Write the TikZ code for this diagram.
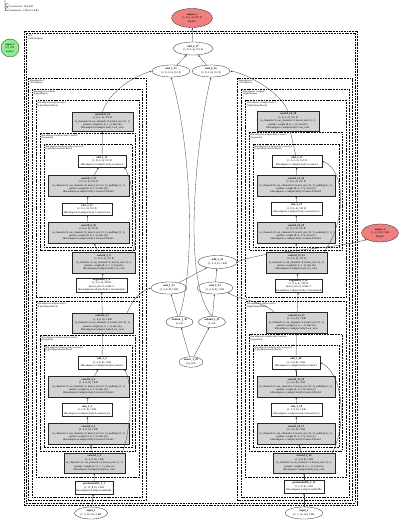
\documentclass[tikz,border=0pt]{standalone}
\usepackage{fontspec}
\setmainfont{Liberation Serif}
\usetikzlibrary{shapes.geometric,arrows.meta}
\definecolor{lcoral}{RGB}{240,128,128}
\definecolor{lgreen}{RGB}{144,238,144}
\definecolor{lgray}{RGB}{211,211,211}
\pgfdeclarelayer{bg}
\pgfsetlayers{bg,main}
\begin{document}
\begin{tikzpicture}[x=1pt,y=-1pt,
  tx/.style={font=\fontsize{2.7}{3.4}\selectfont, align=center, inner sep=0.4pt},
  wbox/.style={tx, rectangle, draw=black!85, line width=0.3pt, fill=white},
  gbox/.style={tx, rectangle, draw=black!85, line width=0.3pt, fill=lgray},
  wel/.style={tx, ellipse, draw=black!85, line width=0.3pt, fill=white, inner sep=0pt},
  rel/.style={wel, fill=lcoral},
  sz/.style 2 args={minimum width=#1pt, minimum height=#2pt},
  clus/.style={draw=black, line width=0.6pt, dash pattern=on 1.8pt off 0.9pt},
  clab/.style={anchor=north west, font=\fontsize{2.4}{2.8}\selectfont, align=left, inner sep=0.3pt},
  conn/.style={draw=black!75, line width=0.3pt, -{Latex[length=2pt,width=1.6pt]}},
]
\useasboundingbox (0,0) rectangle (400,521);
\begin{pgfonlayer}{bg}
\fill[white] (0,0) rectangle (400,521);
% model
\draw[clus] (24,31) rectangle (357.5,505);
\draw[clus] (26.2,33.2) rectangle (355.3,502.8);
% left clusters
\draw[clus] (28.5,78) rectangle (146,500.5);
\draw[clus] (32,89) rectangle (142.5,497.5);
\draw[clus] (36,100.5) rectangle (139,297.5);
\draw[clus] (40,133) rectangle (135.5,250.5);
\draw[clus] (44,144) rectangle (132,247);
\draw[clus] (36,301.5) rectangle (139,477.5);
\draw[clus] (40,335) rectangle (135.5,451);
\draw[clus] (44,345) rectangle (132,447.5);
% right clusters
\draw[clus] (237.5,78) rectangle (352.5,500.5);
\draw[clus] (241.5,89) rectangle (349.5,497.5);
\draw[clus] (245.5,100.5) rectangle (346,297.5);
\draw[clus] (249,132.5) rectangle (342.5,250.5);
\draw[clus] (253,144) rectangle (339,247);
\draw[clus] (245.5,301.5) rectangle (346,477.5);
\draw[clus] (249,334.5) rectangle (342.5,451);
\draw[clus] (253,345) rectangle (339,447.5);
\end{pgfonlayer}

% title text
\node[anchor=north west, font=\fontsize{2.6}{3.3}\selectfont, align=left, inner sep=0pt] (title) at (4,1) {G\\$\Sigma$ tensors/total: 26.8 KB\\$\Sigma$ parameters: 1,296 (5.1 KB)};

% cluster labels
\node[clab] (cmodel) at (28,34.5) {ldm\\(MultiAdapter)};
\node[clab] (cl1) at (29.5,79) {ldm.adapters.0\\(T2IAdapter)};
\node[clab] (cl2) at (33,90) {ldm.adapters.0.adapter\\(LightAdapter)};
\node[clab] (cl3) at (37,101.5) {ldm.adapters.0.adapter.body.1\\(LightAdapterBlock)};
\node[clab] (cl4) at (41,134) {ldm.adapters.0.adapter.body.1.resnets\\(Sequential)};
\node[clab] (cl5) at (45,145) {ldm.adapters.0.adapter.body.1.resnets.0\\(LightAdapterResnetBlock)};
\node[clab] (cl3b) at (37,302.5) {ldm.adapters.0.adapter.body.0\\(LightAdapterBlock)};
\node[clab] (cl4b) at (41,336) {ldm.adapters.0.adapter.body.0.resnets\\(Sequential)};
\node[clab] (cl5b) at (45,346) {ldm.adapters.0.adapter.body.0.resnets.0\\(LightAdapterResnetBlock)};
\node[clab] (cr1) at (238.5,79) {ldm.adapters.1\\(T2IAdapter)};
\node[clab] (cr2) at (242.5,90) {ldm.adapters.1.adapter\\(LightAdapter)};
\node[clab] (cr3) at (246.5,101.5) {ldm.adapters.1.adapter.body.1\\(LightAdapterBlock)};
\node[clab] (cr4) at (250,133.5) {ldm.adapters.1.adapter.body.1.resnets\\(Sequential)};
\node[clab] (cr5) at (254,145) {ldm.adapters.1.adapter.body.1.resnets.0\\(LightAdapterResnetBlock)};
\node[clab] (cr3b) at (246.5,302.5) {ldm.adapters.1.adapter.body.0\\(LightAdapterBlock)};
\node[clab] (cr4b) at (250,335.5) {ldm.adapters.1.adapter.body.0.resnets\\(Sequential)};
\node[clab] (cr5b) at (254,346) {ldm.adapters.1.adapter.body.0.resnets.0\\(LightAdapterResnetBlock)};

% free-standing nodes
\node[rel, sz={41}{19}] (out1) at (192,18) {\textbf{output\_1}\\(1, 8, 4, 4), 512 B\\depth:0};
\node[circle, tx, draw=black!85, line width=0.3pt, fill=lgreen, minimum size=18pt, inner sep=0pt] (in3) at (10,48) {\textbf{input\_3}\\(2,), 8 B\\depth:0};
\node[rel, sz={37}{18}] (out2) at (380,233) {\textbf{output\_2}\\(1, 4, 8, 8), 1 KB\\depth:0};

% centre nodes
\node[wel, sz={40}{13}] (add6) at (193,48.5) {\textbf{add\_6\_37}\\(1, 8, 4, 4), 512 B};
\node[wel, sz={38}{12}] (mul3) at (171,71) {\textbf{mul\_3\_35}\\(1, 8, 4, 4), 512 B};
\node[wel, sz={38}{12}] (mul4) at (211,71) {\textbf{mul\_4\_36}\\(1, 8, 4, 4), 512 B};
\node[wel, sz={39}{13}] (add5) at (217.5,262) {\textbf{add\_5\_34}\\(1, 4, 8, 8), 1 KB};
\node[wel, sz={36}{12}] (mul1) at (169,288) {\textbf{mul\_1\_32}\\(1, 4, 8, 8), 1 KB};
\node[wel, sz={36}{12}] (mul2) at (215,288) {\textbf{mul\_2\_33}\\(1, 4, 8, 8), 1 KB};
\node[wel, sz={27}{11}] (ub1) at (179.5,322) {\textbf{unbind\_1\_30}\\(), 4 B};
\node[wel, sz={27}{11}] (ub2) at (212,322) {\textbf{unbind\_1\_31}\\(), 4 B};
\node[wel, sz={24}{10.5}] (src) at (191,362) {\textbf{tensor\_1\_29}\\(2,), 8 B};

% left column
\node[wel, sz={33}{12}] (lin) at (91,513) {\textbf{input\_1}\\(1, 3, 16, 16), 3 KB};
\node[wbox, sz={38}{13}] (lunsh) at (94,487.5) {\textbf{pixelunshuffle\_1\_1}\\(1, 12, 8, 8), 3 KB\\ldm.adapters.0.adapter.unshuffle};
\node[gbox, sz={61}{20}] (lic0) at (94.5,463) {\textbf{conv2d\_1\_2}\\(1, 4, 8, 8), 1 KB\\in\_channels=12, out\_channels=4, kernel\_size=(1, 1)\\params: weight (4, 12, 1, 1), bias (4,)\\ldm.adapters.0.adapter.body.0.in\_conv};
\node[gbox, sz={81}{21}] (lba0) at (88.5,433.5) {\textbf{conv2d\_2\_3}\\(1, 4, 8, 8), 1 KB\\in\_channels=4, out\_channels=4, kernel\_size=(3, 3), padding=(1, 1)\\params: weight (4, 4, 3, 3), bias (4,)\\ldm.adapters.0.adapter.body.0.resnets.0.block1};
\node[wbox, sz={50}{13}] (lrelu0) at (87,410) {\textbf{relu\_1\_4}\\(1, 4, 8, 8), 1 KB\\ldm.adapters.0.adapter.body.0.resnets.0.act};
\node[gbox, sz={81}{21}] (lbb0) at (88.5,386.5) {\textbf{conv2d\_3\_5}\\(1, 4, 8, 8), 1 KB\\in\_channels=4, out\_channels=4, kernel\_size=(3, 3), padding=(1, 1)\\params: weight (4, 4, 3, 3), bias (4,)\\ldm.adapters.0.adapter.body.0.resnets.0.block2};
\node[wbox, sz={48}{13}] (ladd0) at (102,362.5) {\textbf{add\_1\_6}\\(1, 4, 8, 8), 1 KB\\ldm.adapters.0.adapter.body.0.resnets.0};
\node[gbox, sz={61}{20}] (loc0) at (102.5,323) {\textbf{conv2d\_4\_7}\\(1, 4, 8, 8), 1 KB\\in\_channels=4, out\_channels=4, kernel\_size=(1, 1)\\params: weight (4, 4, 1, 1), bias (4,)\\ldm.adapters.0.adapter.body.0.out\_conv};
\node[wbox, sz={51}{14}] (lpool) at (101.5,285) {\textbf{avgpool2d\_1\_8}\\(1, 4, 4, 4), 256 B\\kernel\_size=2, stride=2\\ldm.adapters.0.adapter.body.1.downsample};
\node[gbox, sz={63}{21}] (lic1) at (104,262.5) {\textbf{conv2d\_5\_9}\\(1, 8, 4, 4), 512 B\\in\_channels=4, out\_channels=8, kernel\_size=(1, 1)\\params: weight (8, 4, 1, 1), bias (8,)\\ldm.adapters.0.adapter.body.1.in\_conv};
\node[gbox, sz={81}{21}] (lba1) at (88.5,232.5) {\textbf{conv2d\_6\_10}\\(1, 8, 4, 4), 512 B\\in\_channels=8, out\_channels=8, kernel\_size=(3, 3), padding=(1, 1)\\params: weight (8, 8, 3, 3), bias (8,)\\ldm.adapters.0.adapter.body.1.resnets.0.block1};
\node[wbox, sz={50}{12}] (lrelu1) at (87,209) {\textbf{relu\_2\_11}\\(1, 8, 4, 4), 512 B\\ldm.adapters.0.adapter.body.1.resnets.0.act};
\node[gbox, sz={81}{21}] (lbb1) at (88.5,185.5) {\textbf{conv2d\_7\_12}\\(1, 8, 4, 4), 512 B\\in\_channels=8, out\_channels=8, kernel\_size=(3, 3), padding=(1, 1)\\params: weight (8, 8, 3, 3), bias (8,)\\ldm.adapters.0.adapter.body.1.resnets.0.block2};
\node[wbox, sz={48}{12}] (ladd1) at (102,161) {\textbf{add\_2\_13}\\(1, 8, 4, 4), 512 B\\ldm.adapters.0.adapter.body.1.resnets.0};
\node[gbox, sz={61}{19}] (loc1) at (102.5,121.5) {\textbf{conv2d\_8\_14}\\(1, 8, 4, 4), 512 B\\in\_channels=8, out\_channels=8, kernel\_size=(1, 1)\\params: weight (8, 8, 1, 1), bias (8,)\\ldm.adapters.0.adapter.body.1.out\_conv};

% right column
\node[wel, sz={38}{12}] (rin) at (304,513) {\textbf{input\_2}\\(1, 1, 16, 16), 1 KB};
\node[wbox, sz={40}{13}] (runsh) at (304,486.5) {\textbf{pixelunshuffle\_2\_15}\\(1, 4, 8, 8), 1 KB\\ldm.adapters.1.adapter.unshuffle};
\node[gbox, sz={62}{20}] (ric0) at (304,463) {\textbf{conv2d\_9\_16}\\(1, 4, 8, 8), 1 KB\\in\_channels=4, out\_channels=4, kernel\_size=(1, 1)\\params: weight (4, 4, 1, 1), bias (4,)\\ldm.adapters.1.adapter.body.0.in\_conv};
\node[gbox, sz={78}{21}] (rba0) at (296,433.5) {\textbf{conv2d\_10\_17}\\(1, 4, 8, 8), 1 KB\\in\_channels=4, out\_channels=4, kernel\_size=(3, 3), padding=(1, 1)\\params: weight (4, 4, 3, 3), bias (4,)\\ldm.adapters.1.adapter.body.0.resnets.0.block1};
\node[wbox, sz={51}{13}] (rrelu0) at (296.5,410) {\textbf{relu\_3\_18}\\(1, 4, 8, 8), 1 KB\\ldm.adapters.1.adapter.body.0.resnets.0.act};
\node[gbox, sz={78}{21}] (rbb0) at (296,386.5) {\textbf{conv2d\_11\_19}\\(1, 4, 8, 8), 1 KB\\in\_channels=4, out\_channels=4, kernel\_size=(3, 3), padding=(1, 1)\\params: weight (4, 4, 3, 3), bias (4,)\\ldm.adapters.1.adapter.body.0.resnets.0.block2};
\node[wbox, sz={48}{13}] (radd0) at (296,362.5) {\textbf{add\_3\_20}\\(1, 4, 8, 8), 1 KB\\ldm.adapters.1.adapter.body.0.resnets.0};
\node[gbox, sz={61}{21}] (roc0) at (296.5,322.5) {\textbf{conv2d\_12\_21}\\(1, 4, 8, 8), 1 KB\\in\_channels=4, out\_channels=4, kernel\_size=(1, 1)\\params: weight (4, 4, 1, 1), bias (4,)\\ldm.adapters.1.adapter.body.0.out\_conv};
\node[wbox, sz={47}{13}] (rpool) at (298.5,285.5) {\textbf{avgpool2d\_2\_22}\\(1, 4, 4, 4), 256 B\\kernel\_size=2, stride=2\\ldm.adapters.1.adapter.body.1.downsample};
\node[gbox, sz={61}{21}] (ric1) at (296.5,262.5) {\textbf{conv2d\_13\_23}\\(1, 8, 4, 4), 512 B\\in\_channels=4, out\_channels=8, kernel\_size=(1, 1)\\params: weight (8, 4, 1, 1), bias (8,)\\ldm.adapters.1.adapter.body.1.in\_conv};
\node[gbox, sz={78}{21}] (rba1) at (296,232.5) {\textbf{conv2d\_14\_24}\\(1, 8, 4, 4), 512 B\\in\_channels=8, out\_channels=8, kernel\_size=(3, 3), padding=(1, 1)\\params: weight (8, 8, 3, 3), bias (8,)\\ldm.adapters.1.adapter.body.1.resnets.0.block1};
\node[wbox, sz={51}{13}] (rrelu1) at (296.5,208.5) {\textbf{relu\_4\_25}\\(1, 8, 4, 4), 512 B\\ldm.adapters.1.adapter.body.1.resnets.0.act};
\node[gbox, sz={78}{21}] (rbb1) at (296,185.5) {\textbf{conv2d\_15\_26}\\(1, 8, 4, 4), 512 B\\in\_channels=8, out\_channels=8, kernel\_size=(3, 3), padding=(1, 1)\\params: weight (8, 8, 3, 3), bias (8,)\\ldm.adapters.1.adapter.body.1.resnets.0.block2};
\node[wbox, sz={50}{12}] (radd1) at (297,161) {\textbf{add\_4\_27}\\(1, 8, 4, 4), 512 B\\ldm.adapters.1.adapter.body.1.resnets.0};
\node[gbox, sz={62}{20}] (roc1) at (288,121) {\textbf{conv2d\_16\_28}\\(1, 8, 4, 4), 512 B\\in\_channels=8, out\_channels=8, kernel\_size=(1, 1)\\params: weight (8, 8, 1, 1), bias (8,)\\ldm.adapters.1.adapter.body.1.out\_conv};

% edge passing behind the right column
\begin{pgfonlayer}{bg}
\draw[conn] (add5.east) .. controls (265,250) and (330,250) .. (out2.south west);
\end{pgfonlayer}

% left column edges
\draw[conn] (lin) -- (lunsh);
\draw[conn] (lunsh) -- (lic0);
\draw[conn] (lic0) -- (lba0);
\draw[conn] (lba0) -- (lrelu0);
\draw[conn] (lrelu0) -- (lbb0);
\draw[conn] (lbb0) -- (ladd0);
\draw[conn] (ladd0) -- (loc0);
\draw[conn] ([xshift=-3pt]lic0.north east) .. controls +(10,-25) and +(8,12) .. ([xshift=-2pt]ladd0.south east);
\draw[conn] (loc0) -- (lpool);
\draw[conn] (lpool) -- (lic1);
\draw[conn] (lic1) -- (lba1);
\draw[conn] (lba1) -- (lrelu1);
\draw[conn] (lrelu1) -- (lbb1);
\draw[conn] (lbb1) -- (ladd1);
\draw[conn] (ladd1) -- (loc1);
\draw[conn] ([xshift=-3pt]lic1.north east) .. controls +(8,-25) and +(8,12) .. ([xshift=-2pt]ladd1.south east);

% right column edges
\draw[conn] (rin) -- (runsh);
\draw[conn] (runsh) -- (ric0);
\draw[conn] (ric0) -- (rba0);
\draw[conn] (rba0) -- (rrelu0);
\draw[conn] (rrelu0) -- (rbb0);
\draw[conn] (rbb0) -- (radd0);
\draw[conn] (radd0) -- (roc0);
\draw[conn] ([xshift=-3pt]ric0.north east) .. controls +(16,-30) and +(22,10) .. (radd0.east);
\draw[conn] (roc0) -- (rpool);
\draw[conn] (rpool) -- (ric1);
\draw[conn] (ric1) -- (rba1);
\draw[conn] (rba1) -- (rrelu1);
\draw[conn] (rrelu1) -- (rbb1);
\draw[conn] (rbb1) -- (radd1);
\draw[conn] (radd1) -- (roc1);
\draw[conn] ([xshift=-3pt]ric1.north east) .. controls +(22,-30) and +(24,10) .. (radd1.east);

% features to the weights
\draw[conn] ([xshift=-6pt]loc0.north east) .. controls +(5,-12) and +(-12,4) .. (mul1.west);
\draw[conn] ([xshift=8pt]roc0.north west) .. controls +(-10,-10) and +(8,6) .. (mul2.south east);
\draw[conn] (loc1.north) .. controls (110,90) and (135,76) .. (mul3.west);
\draw[conn] (roc1.north) .. controls (280,92) and (248,74) .. (mul4.east);

% centre edges
\draw[conn] (src) -- (ub1);
\draw[conn] (src) -- (ub2);
\draw[conn] (ub1) -- (mul1);
\draw[conn] (ub2) -- (mul2);
\draw[conn] (ub1.north) .. controls (198,255) and (188,130) .. (mul3.south);
\draw[conn] (ub2.north) .. controls (180,280) and (198,130) .. (mul4.south);
\draw[conn] (mul1) -- (add5);
\draw[conn] (mul2) -- (add5);
\draw[conn] (mul3) -- (add6);
\draw[conn] (mul4) -- (add6);
\draw[conn] (add6) -- (out1);
\end{tikzpicture}
\end{document}
